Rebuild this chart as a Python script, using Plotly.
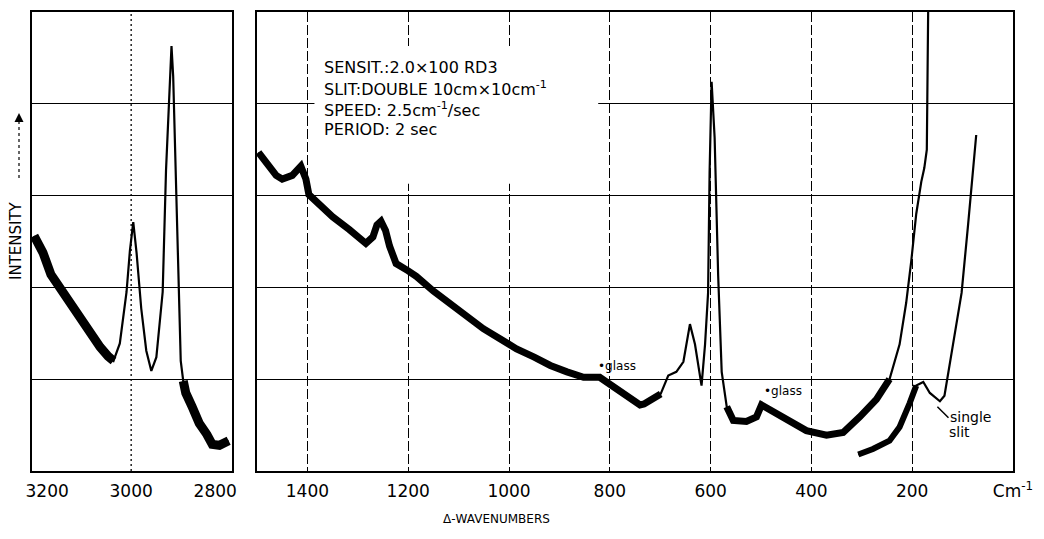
import numpy as np
import plotly.graph_objects as go

# ---------------- data ----------------
# left panel: C-H stretching region (wavenumber, intensity in grid units)
left_wn = [3231, 3210, 3191, 3170, 3152, 3130, 3113, 3090, 3074, 3055, 3042,
           3027, 3011, 3003, 2995, 2987, 2976, 2964, 2952, 2940, 2925, 2917,
           2909, 2904, 2900, 2893, 2887, 2882, 2876, 2870, 2855, 2838, 2820,
           2807, 2790, 2768]
left_int = [2.56, 2.38, 2.14, 2.00, 1.88, 1.72, 1.58, 1.44, 1.35, 1.25, 1.20,
            1.39, 1.95, 2.40, 2.71, 2.37, 1.77, 1.31, 1.09, 1.24, 1.95, 3.28,
            4.22, 4.63, 4.30, 3.20, 2.10, 1.20, 0.98, 0.85, 0.70, 0.52, 0.40,
            0.29, 0.28, 0.33]

# right panel: main spectrum (double slit)
main_wn = [1497, 1480, 1462, 1450, 1430, 1413, 1403, 1397, 1380, 1350, 1317,
           1284, 1270, 1262, 1254, 1245, 1237, 1224, 1200, 1184, 1150, 1118,
           1085, 1051, 1018, 985, 950, 918, 885, 852, 820, 800, 785, 760, 740,
           732, 715, 699, 684, 668, 654, 641, 631, 618, 611, 605, 602, 598,
           592, 585, 578, 568, 555, 529, 509, 499, 483, 449, 410, 370, 337,
           304, 271, 245, 225, 212, 202, 192, 182, 176, 171, 169, 168]
main_int = [3.47, 3.35, 3.22, 3.18, 3.22, 3.32, 3.18, 3.01, 2.92, 2.77, 2.63,
            2.48, 2.55, 2.68, 2.72, 2.62, 2.45, 2.26, 2.18, 2.12, 1.96, 1.82,
            1.68, 1.55, 1.44, 1.33, 1.24, 1.15, 1.08, 1.02, 1.02, 0.95, 0.88,
            0.80, 0.72, 0.73, 0.78, 0.84, 1.04, 1.08, 1.19, 1.60, 1.38, 0.93,
            1.38, 1.94, 3.25, 4.24, 3.63, 2.13, 1.08, 0.70, 0.55, 0.54, 0.59,
            0.72, 0.67, 0.55, 0.44, 0.39, 0.42, 0.59, 0.78, 1.00, 1.38, 1.83,
            2.28, 2.80, 3.15, 3.30, 3.50, 4.20, 5.20]

# right panel: single slit spectrum
single_wn = [307, 278, 245, 225, 205, 192, 178, 165, 145, 136, 119, 102, 89, 79, 73]
single_int = [0.18, 0.24, 0.33, 0.48, 0.74, 0.93, 0.97, 0.85, 0.76, 0.82,
              1.38, 1.94, 2.69, 3.25, 3.66]

left_ticks = [3200, 3000, 2800]
left_ticklabels = ["3200", "3000", "2800"]
left_gridlines = [3000]
right_ticks = [1400, 1200, 1000, 800, 600, 400, 200, 0]
right_ticklabels = ["1400", "1200", "1000", "800", "600", "400", "200", "Cm<sup>-1</sup>"]

info_lines = ["SENSIT.:2.0×100 RD3",
              "SLIT:DOUBLE 10cm×10cm<sup>-1</sup>",
              "SPEED: 2.5cm<sup>-1</sup>/sec",
              "PERIOD: 2 sec"]

# noisy (thick trace) wavenumber ranges
left_noisy = [(3240, 3030), (2962, 2944), (2878, 2760)]
main_noisy = [(1500, 690), (575, 240)]
single_noisy = [(310, 186)]

# ---------------- figure ----------------
W, H = 1044, 539
FONT = "DejaVu Sans"


def masked(wn, vals, ranges):
    wn = np.asarray(wn, float)
    v = np.asarray(vals, float)
    keep = np.zeros(len(wn), bool)
    for hi, lo in ranges:
        keep |= (wn <= hi) & (wn >= lo)
    return [float(x) if k else None for x, k in zip(v, keep)]


fig = go.Figure()


def add_spec(wn, vals, ranges, xa, ya, thick):
    fig.add_trace(go.Scatter(x=wn, y=vals, mode="lines", xaxis=xa, yaxis=ya,
                             line=dict(color="black", width=2.2), hoverinfo="skip",
                             showlegend=False))
    fig.add_trace(go.Scatter(x=wn, y=masked(wn, vals, ranges), mode="lines",
                             xaxis=xa, yaxis=ya, connectgaps=False,
                             line=dict(color="black", width=thick), hoverinfo="skip",
                             showlegend=False))


add_spec(left_wn, left_int, left_noisy, "x", "y", 9)
add_spec(main_wn, main_int, main_noisy, "x2", "y2", 7)
add_spec(single_wn, single_int, single_noisy, "x2", "y2", 6)

ydom = [(H - 471) / H, (H - 12) / H]
tickfont = dict(family=FONT, size=17, color="black")
frame = dict(showline=True, mirror=True, linecolor="black", linewidth=2,
             zeroline=False, ticks="")
common_y = dict(range=[0, 5], domain=ydom, showgrid=True, gridcolor="black",
                gridwidth=1.4, showticklabels=False, tickvals=[0, 1, 2, 3, 4, 5], **frame)

fig.update_layout(
    width=W, height=H, margin=dict(l=0, r=0, t=0, b=0, autoexpand=False),
    paper_bgcolor="white", plot_bgcolor="white",
    xaxis=dict(domain=[32 / W, 232 / W], range=[3236, 2760], tickvals=left_ticks,
               ticktext=left_ticklabels, anchor="y", showgrid=False,
               tickfont=tickfont, ticklabelstandoff=4, **frame),
    yaxis=dict(anchor="x", **common_y),
    xaxis2=dict(domain=[257 / W, 1013 / W], range=[1500, 0], tickvals=right_ticks,
                ticktext=right_ticklabels, anchor="y2", showgrid=True,
                gridcolor="black", gridwidth=1.2, griddash="10px,3px",
                tickfont=tickfont, ticklabelstandoff=4, **frame),
    yaxis2=dict(anchor="x2", **common_y),
)

# dotted vertical grid line in the left panel
for g in left_gridlines:
    fig.add_shape(type="line", xref="x", yref="y", x0=g, x1=g, y0=0, y1=5,
                  line=dict(color="black", width=1.3, dash="2px,3px"), layer="between")

# white area behind the instrument settings text (interrupts grid lines)
fig.add_shape(type="rect", xref="x2", yref="y2", x0=1386, x1=823, y0=3.13, y1=4.63,
              fillcolor="white", line=dict(width=0), layer="between")

for txt, yv in zip(info_lines, [4.40, 4.17, 3.94, 3.72]):
    fig.add_annotation(x=1372, y=yv, xref="x2", yref="y2", text=txt, showarrow=False,
                       xanchor="left", yanchor="middle",
                       font=dict(family=FONT, size=16, color="black"))

# glass labels
glass_font = dict(family=FONT, size=12, color="black")
fig.add_annotation(x=828, y=1.14, xref="x2", yref="y2", text="•glass", showarrow=False,
                   xanchor="left", yanchor="middle", font=glass_font)
fig.add_annotation(x=499, y=0.87, xref="x2", yref="y2", text="•glass", showarrow=False,
                   xanchor="left", yanchor="middle", font=glass_font)

# single slit label
fig.add_shape(type="line", xref="x2", yref="y2", x0=150, y0=0.70, x1=128, y1=0.58,
              line=dict(color="black", width=1.5))
lab_font = dict(family=FONT, size=14, color="black")
fig.add_annotation(x=128, y=0.59, xref="x2", yref="y2", text="single", showarrow=False,
                   xanchor="left", yanchor="middle", font=lab_font)
fig.add_annotation(x=130, y=0.43, xref="x2", yref="y2", text="slit", showarrow=False,
                   xanchor="left", yanchor="middle", font=lab_font)

# y label with dotted arrow
fig.add_annotation(x=16 / W, y=1 - 241 / H, xref="paper", yref="paper", text="INTENSITY",
                   textangle=-90, showarrow=False, xanchor="center", yanchor="middle",
                   font=dict(family=FONT, size=15, color="black"))
fig.add_shape(type="line", xref="paper", yref="paper", x0=19 / W, x1=19 / W,
              y0=1 - 178 / H, y1=1 - 120 / H, line=dict(color="black", width=1.2, dash="dot"))
fig.add_annotation(x=19 / W, y=1 - 113 / H, xref="paper", yref="paper", ax=0, ay=10,
                   text="", showarrow=True, arrowhead=2, arrowsize=1.2, arrowwidth=1.5,
                   arrowcolor="black")

# x label
fig.add_annotation(x=496 / W, y=1 - 519 / H, xref="paper", yref="paper", text="Δ-WAVENUMBERS",
                   showarrow=False, xanchor="center", yanchor="middle",
                   font=dict(family=FONT, size=12, color="black"))

fig.write_html("out.html", config={"displayModeBar": False},
               post_script="document.body.style.margin='0';document.body.style.overflow='hidden';")
